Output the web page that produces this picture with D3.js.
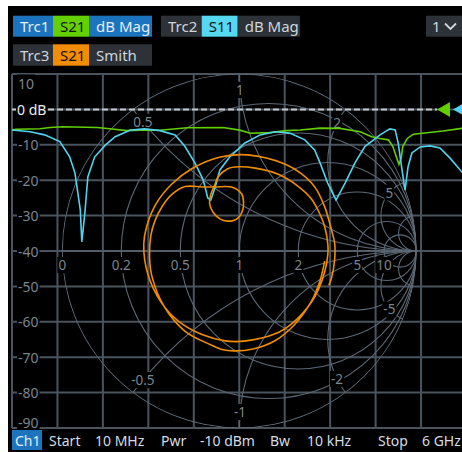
<!DOCTYPE html>
<html><head><meta charset="utf-8">
<script src="https://cdn.jsdelivr.net/npm/d3@7"></script>
<style>
html,body{margin:0;padding:0;background:#fff;overflow:hidden}
svg{display:block}
text{font-family:"Noto Sans",sans-serif}
</style>
</head><body>
<svg id="c" width="462" height="452"></svg>
<script>
// ---------------- data ----------------
const s21Freq = [0.01,0.07,0.38,0.51,0.68,1.13,1.30,1.52,1.70,1.96,2.32,2.79,3.01,3.15,3.40,3.63,3.81,4.07,4.33,4.60,4.75,4.86,4.97,5.03,5.08,5.11,5.14,5.16,5.22,5.30,5.48,5.69,5.94,6.00];
const s21dB   = [-5.8,-5.6,-5.45,-5.1,-4.9,-5.1,-5.45,-6.0,-5.85,-5.9,-5.2,-5.1,-5.85,-6.75,-6.55,-6.0,-5.8,-5.3,-5.35,-6.3,-7.7,-8.2,-8.6,-10.5,-13.7,-15.5,-13.7,-10.5,-8.2,-7.0,-6.6,-6.1,-5.35,-5.3];

const s11Freq = [0.01,0.25,0.44,0.64,0.77,0.84,0.91,0.93,0.97,1.01,1.10,1.24,1.37,1.57,1.76,1.96,2.16,2.29,2.42,2.53,2.59,2.63,2.69,2.75,2.88,3.08,3.28,3.48,3.67,3.87,4.00,4.07,4.17,4.28,4.40,4.53,4.66,4.86,4.99,5.06,5.10,5.15,5.19,5.23,5.28,5.39,5.52,5.65,5.78,5.94,6.00];
const s11dB   = [-5.8,-6.3,-7.2,-9.1,-13.4,-18,-28.4,-37.4,-29.3,-19,-13.4,-10.1,-7.7,-5.8,-5.5,-6.0,-7.2,-10.5,-15.1,-19.9,-25.0,-25.6,-21.8,-17.1,-13.4,-9.5,-7.2,-6.3,-6.7,-8.6,-11.5,-15.1,-20.8,-25.6,-20.8,-15.1,-10.5,-7.2,-5.5,-5.8,-9.5,-17.1,-22.8,-16.2,-12.3,-10.6,-10.3,-10.9,-13.7,-17.7,-19.1];

// S21 on Smith chart, read as phase (deg, unwrapped) and linear magnitude
const smithPhaseDeg = [-6.7,-20,-35,-53,-68,-82,-93,-100,-107,-124,-143,-163,-176,
  -190,-200,-210,-220,-230,-240,-249,-263,-272.5,
  -275,-275,-271,-262,-249,-239,-236,-238,-243,-250,-254,-262,-267,
  -281,-297,-312,-324,-335,-344,-356,-362,
  -373,-385,-395,-413,-427,-447,-459,-474,-491,-507,-526,-544,
  -555,-570,-585,-600,-618,-635,-658,-669,-680,-693,-705,-716,-725,-736,-741];
const smithMag = [0.486,0.486,0.497,0.520,0.545,0.559,0.565,0.565,0.554,0.547,0.528,0.514,0.508,
  0.507,0.506,0.503,0.497,0.475,0.418,0.387,0.364,0.322,
  0.277,0.237,0.198,0.177,0.181,0.212,0.266,0.316,0.356,0.401,0.435,0.469,0.475,
  0.477,0.486,0.494,0.503,0.501,0.502,0.502,0.501,
  0.497,0.497,0.500,0.506,0.510,0.510,0.514,0.517,0.525,0.528,0.533,0.541,
  0.541,0.540,0.537,0.537,0.542,0.545,0.555,0.560,0.559,0.543,0.534,0.541,0.541,0.543,0.542];

const yTicks = [10,0,-10,-20,-30,-40,-50,-60,-70,-80,-90];
const smithRes = [0,0.2,0.5,1,2,5,10];
const smithReact = [0.5,1,2,5,10,-0.5,-1,-2,-5,-10];
const smithResLabels = ["0","0.2","0.5","1","2","5","10"];
const smithReactLabels = [0.5,1,2,5,-0.5,-1,-2,-5];
const statusItems = ["Start","10 MHz","Pwr","-10 dBm","Bw","10 kHz","Stop","6 GHz"];

// ---------------- layout ----------------
const svg = d3.select("#c");
const L=12, R=466.5, T=74, B=428;
const x = d3.scaleLinear().domain([0.01,6]).range([L,R]);
const y = d3.scaleLinear().domain([10,-90]).range([T,B]);
const cx=(L+R)/2, cy=y(-40), RR=(B-T)/2;
const gx = d3.scaleLinear().domain([-1,1]).range([cx-RR,cx+RR]);
const gy = d3.scaleLinear().domain([-1,1]).range([cy+RR,cy-RR]);

const GRID="#4a545e", SGRID="#5c6874", LBL="#7a858f";
const BLUE="#1c74bf", DARK="#2c3238";

svg.append("rect").attr("x",8).attr("y",6).attr("width",462-8).attr("height",452-6).attr("fill","#000");

const defs = svg.append("defs");
defs.append("clipPath").attr("id","plotclip").append("rect").attr("x",L).attr("y",T-2).attr("width",R-L).attr("height",B-T+4);
defs.append("clipPath").attr("id","smithclip").append("circle").attr("cx",cx).attr("cy",cy).attr("r",RR+0.5);

// rectangular grid
const xGrid = d3.range(11).map(i=>0.01+i*5.99/10);
const g = svg.append("g");
g.selectAll("line.v").data(xGrid).enter().append("line")
  .attr("x1",d=>x(d)).attr("x2",d=>x(d)).attr("y1",T).attr("y2",B)
  .attr("stroke",GRID).attr("stroke-width",2);
g.selectAll("line.h").data(yTicks).enter().append("line")
  .attr("x1",L).attr("x2",R).attr("y1",d=>y(d)).attr("y2",d=>y(d))
  .attr("stroke",GRID).attr("stroke-width",2);

// Smith grid
const sg = svg.append("g").attr("clip-path","url(#smithclip)").attr("fill","none").attr("stroke",SGRID).attr("stroke-width",1.1);
sg.append("line").attr("x1",gx(-1)).attr("x2",gx(1)).attr("y1",cy).attr("y2",cy);
sg.selectAll("circle.r").data(smithRes).enter().append("circle")
  .attr("cx",r=>gx(r/(1+r))).attr("cy",cy).attr("r",r=>RR/(1+r));
sg.selectAll("circle.x").data(smithReact).enter().append("circle")
  .attr("cx",gx(1)).attr("cy",d=>gy(1/d)).attr("r",d=>RR/Math.abs(d));

// helper: text with black background
function bgText(parent, tx, ty, str, opts){
  const gg = parent.append("g");
  const rect = gg.append("rect").attr("fill","#000");
  const t = gg.append("text").attr("x",tx).attr("y",ty).text(str)
    .attr("font-size",opts.size||13).attr("fill",opts.color||LBL)
    .attr("text-anchor",opts.anchor||"middle").attr("dominant-baseline","central");
  const bb = t.node().getBBox();
  rect.attr("x",bb.x-1).attr("y",bb.y+1).attr("width",bb.width+2).attr("height",bb.height-2);
  return gg;
}

// Smith labels: resistance on real axis
const lg = svg.append("g");
smithRes.forEach((r,i)=>{
  bgText(lg, gx((r-1)/(r+1)), cy+14, smithResLabels[i], {size:13.5});
});
// reactance labels at |Gamma| ~ 0.91 along each arc
smithReactLabels.forEach(xv=>{
  const rho=0.91, a=1+rho*rho, b=1-rho*rho;
  const r=(a-Math.sqrt(a*a-b*b*(1+xv*xv)))/b;
  const den=(r+1)*(r+1)+xv*xv;
  const gr=((r-1)*(r+1)+xv*xv)/den, gi=(xv*(r+1)-xv*(r-1))/den;
  bgText(lg, gx(gr), gy(gi), String(xv), {size:13.5});
});

// y-axis labels
yTicks.forEach(v=>{
  if(v===0) return;
  let ty=y(v);
  if(v===10) ty=T+9;
  if(v===-90) ty=B-6;
  bgText(lg, 18, ty, String(v), {size:14, anchor:"start"});
});

// 0 dB reference line
svg.append("line").attr("x1",L).attr("x2",437).attr("y1",y(0)).attr("y2",y(0))
  .attr("stroke","#c4c8cc").attr("stroke-width",2).attr("stroke-dasharray","6,3");
bgText(svg, 17, y(0), "0 dB", {size:14, anchor:"start", color:"#eef0f2"});

// traces
const tg = svg.append("g").attr("clip-path","url(#plotclip)").attr("fill","none");
const line = d3.line().x(d=>x(d[0])).y(d=>y(d[1]));
tg.append("path").datum(s21Freq.map((f,i)=>[f,s21dB[i]])).attr("d",line)
  .attr("stroke","#62cf00").attr("stroke-width",1.6);
tg.append("path").datum(s11Freq.map((f,i)=>[f,s11dB[i]])).attr("d",line)
  .attr("stroke","#50d4ee").attr("stroke-width",1.6);
const sline = d3.line().curve(d3.curveCatmullRom.alpha(0.5))
  .x(d=>gx(d[1]*Math.cos(d[0]*Math.PI/180))).y(d=>gy(d[1]*Math.sin(d[0]*Math.PI/180)));
tg.append("path").datum(smithPhaseDeg.map((p,i)=>[p,smithMag[i]])).attr("d",sline)
  .attr("stroke","#f08c00").attr("stroke-width",1.6);

// reference markers
svg.append("path").attr("d",`M437,${y(0)} L450,${y(0)-7.5} L450,${y(0)+7.5} Z`).attr("fill","#62cf00");
svg.append("path").attr("d",`M453,${y(0)} L466,${y(0)-7.5} L466,${y(0)+7.5} Z`).attr("fill","#50d4ee");

// header
const hdr = [
  [13,53,15.7,36.7,BLUE,"Trc1","#e6eef5"],[53,89,15.7,36.7,"#64d000","S21","#111"],[89,152,15.7,36.7,BLUE,"dB Mag","#e6eef5"],
  [161,201.7,15.7,36.7,DARK,"Trc2","#cfd6dc"],[201.7,237.7,15.7,36.7,"#55d8f0","S11","#111"],[237.7,300,15.7,36.7,DARK,"dB Mag","#cfd6dc"],
  [13,53,44.3,65.7,DARK,"Trc3","#cfd6dc"],[53,89,44.3,65.7,"#f28c00","S21","#111"],[89,152,44.3,65.7,DARK,"Smith","#cfd6dc"]
];
const hg = svg.append("g");
hdr.forEach(h=>{
  hg.append("rect").attr("x",h[0]).attr("y",h[2]).attr("width",h[1]-h[0]).attr("height",h[3]-h[2]).attr("fill",h[4]);
  hg.append("text").attr("x",h[0]+7).attr("y",(h[2]+h[3])/2).attr("dominant-baseline","central")
    .attr("font-size",15).attr("fill",h[6]).text(h[5]);
});
hg.append("rect").attr("x",426).attr("y",15.7).attr("width",36).attr("height",21).attr("fill",DARK);
hg.append("text").attr("x",432).attr("y",26.2).attr("dominant-baseline","central").attr("font-size",15).attr("fill","#cfd6dc").text("1");
hg.append("path").attr("d","M445,23.5 L450.5,29 L456,23.5").attr("fill","none").attr("stroke","#cfd6dc").attr("stroke-width",1.8);

// status bar
svg.append("rect").attr("x",12).attr("y",430).attr("width",30).attr("height",20).attr("fill",BLUE);
svg.append("text").attr("x",15).attr("y",440).attr("dominant-baseline","central").attr("font-size",14).attr("fill","#e6eef5").text("Ch1");
const statusX=[49,95,161,200,270,307,378,422];
statusItems.forEach((s,i)=>{
  svg.append("text").attr("x",statusX[i]).attr("y",440).attr("dominant-baseline","central")
    .attr("font-size",14).attr("fill","#d6dce2").text(s);
});
</script>
</body></html>
